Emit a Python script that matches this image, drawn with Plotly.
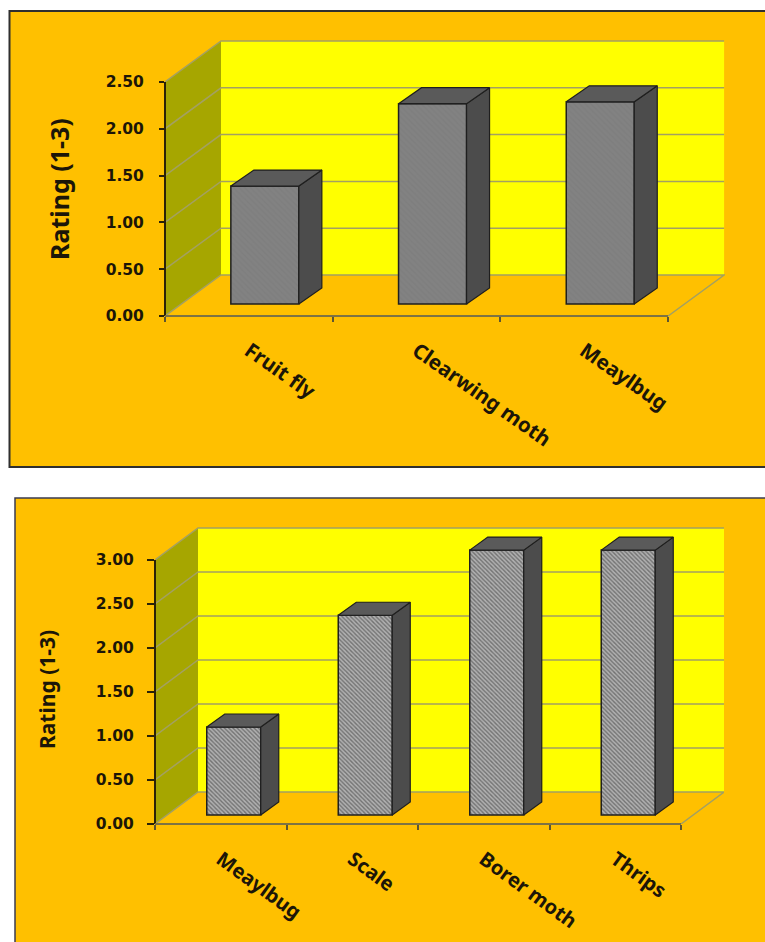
import plotly.graph_objects as go

# ---- data ----
top_categories = ["Fruit fly", "Clearwing moth", "Meaylbug"]
top_values = [1.26, 2.14, 2.16]
top_ticks = [0, 0.5, 1.0, 1.5, 2.0, 2.5]

bottom_categories = ["Meaylbug", "Scale", "Borer moth", "Thrips"]
bottom_values = [1.0, 2.27, 3.01, 3.01]
bottom_ticks = [0, 0.5, 1.0, 1.5, 2.0, 2.5, 3.0]

W, H = 765, 942
ORANGE = "#FFC000"
YELLOW = "#FFFF00"
OLIVE = "#A6A600"
GRID = "#A3A062"
INK = "#1c1608"
CAT_FONT = "Noto Sans"
NUM_FONT = "DejaVu Sans"

fig = go.Figure()
shapes = []
annotations = []


def polygon(points):
    return "M" + " L".join(f"{x},{y}" for x, y in points) + " Z"


def panel(idx, cats, vals, ticks, ymax, px, style):
    sfx = "" if idx == 1 else str(idx)
    xr, yr = "x" + sfx, "y" + sfx
    left, right_back, y0_px, top_back, unit_x, unit_y = px
    x0 = -0.5
    x1 = x0 + len(cats)
    dx = style["wall_dx"] / unit_x
    dy = style["wall_dy"] / unit_y
    bdx = style["bar_dx"] / unit_x
    bdy = style["bar_dy"] / unit_y
    off = style["bar_off_x"] / unit_x
    base = style["bar_off_y"] / unit_y
    bw = style["bar_w"] / unit_x

    def add_shape(path, fill="rgba(0,0,0,0)", line=GRID, lw=1.5):
        shapes.append(dict(type="path", path=path, xref=xr, yref=yr, layer="below",
                           fillcolor=fill, line=dict(color=line, width=lw)))

    # walls and floor
    add_shape(polygon([(x0 + dx, dy), (x1 + dx, dy), (x1 + dx, ymax + dy), (x0 + dx, ymax + dy)]),
              YELLOW, YELLOW, 0)
    add_shape(polygon([(x0, 0), (x0 + dx, dy), (x0 + dx, ymax + dy), (x0, ymax)]), OLIVE, OLIVE, 0)
    add_shape(polygon([(x0, 0), (x1, 0), (x1 + dx, dy), (x0 + dx, dy)]), ORANGE, GRID, 1.5)
    # gridlines run along the left wall and the back wall
    for t in ticks[1:]:
        add_shape(f"M{x0},{t} L{x0 + dx},{t + dy} L{x1 + dx},{t + dy}")

    # front faces
    fig.add_trace(go.Bar(
        x=[i + off for i in range(len(vals))], y=vals, base=base, width=bw,
        xaxis=xr, yaxis=yr, showlegend=False,
        marker=dict(color=style["face"], line=dict(color="#1f1f1f", width=1.5),
                    pattern=dict(shape="\\", fgcolor=style["hatch"], bgcolor=style["face"],
                                 size=style["hatch_size"], solidity=style["solidity"])),
    ))
    # side and top faces derive from the same values
    for i, v in enumerate(vals):
        l = i + off - bw / 2
        r = i + off + bw / 2
        t = base + v
        side = [(r, base), (r, t), (r + bdx, t + bdy), (r + bdx, base + bdy), (r, base)]
        roof = [(l, t), (r, t), (r + bdx, t + bdy), (l + bdx, t + bdy), (l, t)]
        for pts, col in ((side, "#4C4C4C"), (roof, "#5A5A5A")):
            fig.add_trace(go.Scatter(
                x=[p[0] for p in pts], y=[p[1] for p in pts], mode="lines", fill="toself",
                fillcolor=col, line=dict(color="#1f1f1f", width=1.2), xaxis=xr, yaxis=yr,
                showlegend=False, hoverinfo="skip"))
    # axis lines: paper-anchored on one side so the stroke is not cut by the plot clip
    shapes.append(dict(type="line", xref="paper", yref=yr, x0=left / W, x1=left / W, y0=0, y1=ymax,
                       layer="above", line=dict(color="#2a2208", width=2)))
    shapes.append(dict(type="line", xref=xr, yref="paper", x0=x0, x1=x1,
                       y0=1 - y0_px / H, y1=1 - y0_px / H,
                       layer="above", line=dict(color="#7d7344", width=2.2)))

    fig.update_layout({
        "xaxis" + sfx: dict(
            domain=[left / W, right_back / W], anchor=yr, automargin=False,
            range=[x0, x0 + (right_back - left) / unit_x],
            tickmode="array", tickvals=list(range(len(cats))), ticktext=cats,
            ticks="", ticklen=0, tickangle=style["angle"], ticklabelstandoff=style["cat_standoff"],
            tickfont=dict(family=CAT_FONT, size=style["cat_size"], color=INK, weight="bold"),
            showgrid=False, zeroline=False, showline=False,
            minor=dict(tickmode="array", tickvals=[x0 + k for k in range(len(cats) + 1)],
                       ticks="outside", ticklen=5, tickcolor="#5f5630", tickwidth=1.8, showgrid=False),
        ),
        "yaxis" + sfx: dict(
            domain=[(H - y0_px) / H, (H - top_back) / H], anchor=xr, automargin=False,
            range=[0, (y0_px - top_back) / unit_y],
            tickmode="array", tickvals=ticks, ticktext=[f"{t:.2f}" for t in ticks],
            ticks="outside", ticklen=style["y_ticklen"], tickcolor="#2a2208", tickwidth=1.5,
            ticklabelstandoff=style["y_standoff"],
            tickfont=dict(family=NUM_FONT, size=15.5, color=INK, weight="bold"),
            showgrid=False, zeroline=False, showline=False,
        ),
    })
    annotations.append(dict(
        text="Rating (1-3)", xref="paper", yref="paper", showarrow=False, textangle=-90,
        x=style["title_x"] / W, y=1 - style["title_y"] / H, xanchor="center", yanchor="middle",
        font=dict(family=CAT_FONT, size=style["title_size"], color=INK, weight=style["title_weight"]),
    ))


# orange card behind each chart
shapes.append(dict(type="rect", xref="paper", yref="paper", layer="below",
                   x0=9.5 / W, x1=1.02, y0=1 - 467 / H, y1=1 - 11 / H,
                   fillcolor=ORANGE, line=dict(color="#2f2f2f", width=2)))
shapes.append(dict(type="rect", xref="paper", yref="paper", layer="below",
                   x0=15 / W, x1=1.02, y0=-0.02, y1=1 - 498 / H,
                   fillcolor=ORANGE, line=dict(color="#3b3b50", width=1.5)))

panel(1, top_categories, top_values, top_ticks, 2.5,
      (165, 725, 316, 40, 167.7, 93.6),
      dict(wall_dx=56, wall_dy=41, bar_dx=23, bar_dy=16, bar_off_x=16, bar_off_y=12, bar_w=68,
           face="#828282", hatch="#7a7a7a", hatch_size=4, solidity=0.4, angle=35, cat_size=20.5,
           cat_standoff=18, y_ticklen=5, y_standoff=12, title_x=59, title_y=189, title_size=25,
           title_weight="bold"))
panel(2, bottom_categories, bottom_values, bottom_ticks, 3.0,
      (155, 724, 824, 527, 131.5, 88.0),
      dict(wall_dx=43, wall_dy=32, bar_dx=18, bar_dy=13, bar_off_x=13, bar_off_y=9, bar_w=54,
           face="#B0B0B0", hatch="#333333", hatch_size=3, solidity=0.45, angle=36, cat_size=20,
           cat_standoff=19, y_ticklen=7, y_standoff=10, title_x=47, title_y=690, title_size=21,
           title_weight="bold"))

fig.update_layout(
    width=W, height=H, margin=dict(l=0, r=0, t=0, b=0), autosize=False,
    paper_bgcolor="white", plot_bgcolor="rgba(0,0,0,0)", barmode="overlay",
    showlegend=False, shapes=shapes, annotations=annotations,
)
fig.write_html("out.html", config={"displayModeBar": False},
               post_script="document.body.style.margin='0';document.body.style.overflow='hidden';")
